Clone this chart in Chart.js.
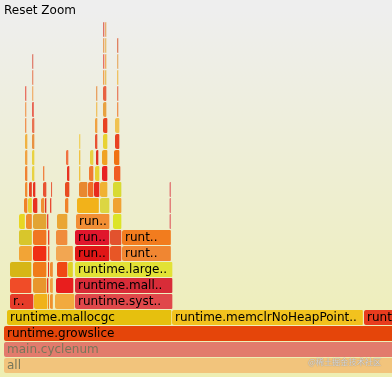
<!DOCTYPE html>
<html>
<head>
<meta charset="utf-8">
<script src="https://cdn.jsdelivr.net/npm/chart.js@4.4.0/dist/chart.umd.min.js"></script>
<style>
  body { margin: 0; }
  #wrap {
    position: relative; width: 392px; height: 377px; overflow: hidden;
    background: linear-gradient(180deg, #eeeeee 11px, #eeeeb0 386px);
  }
  #flame { position: absolute; left: 0; top: 0; }
  #reset {
    position: absolute; left: 4px; top: 3px;
    font: 12px/14px "DejaVu Sans", Verdana, sans-serif; color: #000;
  }
  #mark {
    position: absolute; left: 308px; top: 356px;
    font: 8.2px/11px "Noto Sans CJK SC", sans-serif;
    color: rgba(236,236,236,0.85); text-shadow: 0 0 1px rgba(90,90,90,0.9);
  }
</style>
</head>
<body>
<div id="wrap">
  <canvas id="flame" width="392" height="377"></canvas>
  <div id="reset">Reset Zoom</div>
  <div id="mark">@稀土掘金技术社区</div>
</div>
<script>
// x in samples, counted from the left edge of the zoomed frame (runtime.growslice)
const viewStart = -4;
const viewEnd = 388;
const zoomLevel = 2; // frames under this level are the faded parents

// one row per stack depth: [start, end, function]
const levelFrames = [
  [[0, 700, 'all']],
  [[0, 700, 'main.cyclenum']],
  [[0, 700, 'runtime.growslice']],
  [[3, 168, 'runtime.mallocgc'], [168, 359.5, 'runtime.memclrNoHeapPointers'], [360, 700, 'runtime.memmove']],
  [[6, 30, 'runtime.profilealloc'], [30, 44, 'runtime.nextFreeFast'], [44, 45.5, 'runtime.releasem'], [46, 49.5, 'runtime.acquirem'], [51, 71, 'runtime.heapBitsSetType'], [71, 169, 'runtime.systemstack']],
  [[6, 28, 'runtime.mProf_Malloc'], [29, 43, 'runtime.(*mcache).nextFree'], [43, 45, 'runtime.getMCache'], [46, 49.5, 'runtime.heapBitsForAddr'], [52, 70, 'runtime.heapBits.initSpan'], [71, 169, 'runtime.mallocgc.func1']],
  [[6, 28, 'runtime.callers'], [29, 43, 'runtime.(*mcache).refill'], [44, 45.5, 'runtime.add'], [46, 49.5, 'runtime.(*mspan).base'], [53, 64, 'runtime.memclrNoHeapPointers'], [64, 69.5, 'runtime.(*gcBits).bitp'], [71, 169, 'runtime.largeAlloc']],
  [[15, 28.5, 'runtime.systemstack'], [29, 43, 'runtime.(*mcentral).cacheSpan'], [44, 46, 'runtime.nextFreeFast'], [52, 69.5, 'runtime.heapBitsSetType'], [71, 106, 'runtime.(*mheap).alloc'], [106, 118, 'runtime.deductSweepCredit'], [118, 167.5, 'runtime.memclrNoHeapPointers']],
  [[15, 28.5, 'runtime.callers.func1'], [29, 43, 'runtime.(*mcentral).grow'], [44, 46, 'runtime.(*mspan).nextFreeIndex'], [52, 64, 'runtime.heapBitsForAddr'], [71, 106, 'runtime.(*mheap).alloc.func1'], [106, 118, 'runtime.sweepone'], [118, 167.5, 'runtime.(*mheap).allocSpan']],
  [[15, 21.5, 'runtime.gentraceback'], [22, 28.5, 'runtime.callers'], [29, 43, 'runtime.(*mheap).alloc'], [43, 45, 'runtime.lock'], [53, 64, 'runtime.(*mspan).refillAllocCache'], [72, 106, 'runtime.(*mheap).allocSpanLocked'], [109, 118, 'runtime.(*mspan).sweep'], [165.5, 167.5, 'runtime.(*mheap).allocNeedsZero']],
  [[20, 24, 'runtime.funcspdelta'], [24, 28.5, 'runtime.callers.func1'], [29, 34, 'runtime.(*mheap).alloc_m'], [37, 41, 'runtime.(*mheap).reclaim'], [41, 43, 'runtime.(*mspan).init'], [46, 48, 'runtime.unlock'], [61, 65, 'runtime.(*gcBits).bytep'], [73, 95.5, 'runtime.(*mheap).grow'], [96, 106, 'runtime.(*mheap).setSpans'], [109, 118, 'runtime.(*mspan).sweep.func1'], [165.5, 167.5, 'runtime.memclrNoHeapPointers']],
  [[21, 24, 'runtime.pcvalue'], [25, 28.5, 'runtime.findfunc'], [29, 32, 'runtime.(*mheap).allocSpanLocked'], [39, 43, 'runtime.(*mheap).reclaimChunk'], [47, 48.5, 'runtime.lock2'], [61, 66, 'runtime.addb'], [75, 84, 'runtime.sysAlloc'], [84, 90, 'runtime.(*mheap).sysAlloc'], [90, 96, 'runtime.(*mheap).growAddSpan'], [96, 104, 'runtime.(*pageAlloc).grow'], [109, 118, 'runtime.(*sweepLocked).sweep'], [165.5, 167.5, 'runtime.memclrNoHeapPointers']],
  [[21, 24, 'runtime.step'], [28, 31, 'runtime.(*mheap).freeSpanLocked'], [39, 41, 'runtime.(*mspan).sweep'], [63, 66, 'runtime.add'], [75, 77, 'runtime.sysMap'], [85, 90, 'runtime.sysReserve'], [91, 96, 'runtime.(*mheap).freeSpanLocked'], [98, 104, 'runtime.(*pageAlloc).update'], [110, 117, 'runtime.(*mspan).refillAllocCache']],
  [[21, 24, 'runtime.readvarint'], [28, 31, 'runtime.(*mheap).coalesce'], [62, 65, 'runtime.(*gcBits).bitp'], [75, 77, 'runtime.mmap'], [86, 90, 'runtime.mmap'], [92, 95, 'runtime.(*mheap).coalesce'], [98, 104, 'runtime.(*pageAlloc).scavenge'], [110, 116, 'runtime.(*mspan).countAlloc']],
  [[21, 24, 'runtime.readvarint'], [28, 31, 'runtime.(*mheap).allocSpan'], [75, 77, 'runtime.mmap.func1'], [91, 94, 'runtime.(*mheap).grow'], [99, 104, 'runtime.(*pageAlloc).scavengeOne'], [111, 116, 'runtime.popcnt']],
  [[21, 23, 'runtime.funcdata'], [28, 31, 'runtime.(*pageAlloc).alloc'], [91, 94, 'runtime.sysUnused'], [99, 104, 'runtime.(*pageAlloc).scavengeRangeLocked'], [111, 116, 'runtime.sysAlloc']],
  [[21, 23, 'runtime.pcdatavalue'], [28, 30.5, 'runtime.(*pageAlloc).find'], [92, 94, 'runtime.madvise'], [99, 103, 'runtime.sysUnused'], [113, 115, 'runtime.sysMap']],
  [[21, 23, 'runtime.pcvalue'], [28, 30, 'runtime.(*pageAlloc).allocRange'], [92, 94, 'runtime.madvise.func1'], [99, 103, 'runtime.madvise'], [113, 115, 'runtime.mmap']],
  [[28, 30, 'runtime.(*pallocBits).allocRange'], [99, 101, 'runtime.madvise.func1'], [101, 103, 'runtime.asmcgocall'], [113, 115, 'runtime.mmap.func1']],
  [[28, 30, 'runtime.(*pageBits).setRange'], [99, 101, 'runtime.asmcgocall'], [101, 103, 'runtime.sysUnused'], [113, 115, 'runtime.asmcgocall']],
  [[99, 101, 'runtime.libcCall'], [101, 103, 'runtime.madvise'], [113, 115, 'runtime.libcCall']],
  [[99, 101, 'runtime.madvise_trampoline'], [101, 103, 'runtime.madvise_trampoline']]
];

const levelColors = [
  ['#f2c47c'],
  ['#e27b6c'],
  ['#e5450a'],
  ['#e6c00e', '#f2c21e', '#e83c1e'],
  ['#e63c2a', '#f0b21a', '#f08222', '#f0922e', '#f2aa3e', '#e0484a'],
  ['#f04c28', '#e8962c', '#e83222', '#f0a242', '#e81e1e', '#d82c38'],
  ['#d6b616', '#f07c1a', '#e8321a', '#f08e32', '#f04814', '#e0d226', '#e2e236'],
  ['#f2a436', '#f02e14', '#f06232', '#f2a652', '#e01616', '#e85626', '#f08632'],
  ['#d8c62c', '#f07622', '#e8422a', '#f08c3c', '#e0162c', '#e2522e', '#f27c1e'],
  ['#e8d622', '#f08c2c', '#e2a434', '#e84232', '#eaa634', '#f28e34', '#dce426', '#e06a6a'],
  ['#f08228', '#e8d232', '#e83222', '#f08e32', '#e03222', '#e84a32', '#f0822a', '#f2b21a', '#dcd642', '#f0a232', '#e06a6a'],
  ['#f08a32', '#e84222', '#e83222', '#e85232', '#e86242', '#e84c22', '#e88830', '#f06c26', '#e82a1e', '#f0b232', '#d8da32', '#e06a6a'],
  ['#f08232', '#e8d242', '#f08242', '#e83222', '#f0c242', '#f07a32', '#e8d232', '#e82222', '#f05c22'],
  ['#f0a242', '#e8d242', '#f07242', '#f0c242', '#e8d242', '#e03222', '#f0a222', '#f07212'],
  ['#f0b242', '#e89242', '#f0d262', '#e85232', '#e8d232', '#e84222'],
  ['#f09252', '#e87252', '#f0a242', '#e84222', '#f0c252'],
  ['#f0a262', '#e86252', '#f0c262', '#e8a242', '#f09252'],
  ['#e87262', '#f0b272', '#e8a262', '#e86242', '#e88262'],
  ['#e89272', '#f0a252', '#e8c262', '#f0c262'],
  ['#e08272', '#e87262', '#f0b060', '#e8b272'],
  ['#e8a262', '#e8c070', '#e08262'],
  ['#e07262', '#e8b070']
];

const frames = [];
levelFrames.forEach((row, level) => {
  row.forEach((f, i) => {
    frames.push({ level: level, start: f[0], end: f[1], name: f[2], color: levelColors[level][i] });
  });
});

// flamegraph.pl style label fitting: "name.." cut to the box width
function fitLabel(ctx, name, w) {
  if (w < 2 * 12 * 0.59) return '';
  if (ctx.measureText(name).width < w) return name;
  for (let n = name.length - 2; n > 0; n--) {
    if (ctx.measureText(name.slice(0, n + 2)).width <= w) return name.slice(0, n) + '..';
  }
  return '';
}

const flameLabels = {
  id: 'flameLabels',
  afterDatasetsDraw(chart) {
    const ctx = chart.ctx;
    const meta = chart.getDatasetMeta(0);
    ctx.save();
    ctx.font = '12px "DejaVu Sans", Verdana, sans-serif';
    ctx.textBaseline = 'alphabetic';
    meta.data.forEach((bar, i) => {
      const p = bar.getProps(['x', 'y', 'base'], true);
      const left = Math.min(p.x, p.base);
      const txt = fitLabel(ctx, frames[i].name, Math.abs(p.x - p.base) - 3);
      if (!txt) return;
      ctx.fillStyle = frames[i].level < zoomLevel ? '#77775a' : '#000';
      ctx.fillText(txt, left + 3, p.y + 3.5);
    });
    ctx.restore();
  }
};

new Chart(document.getElementById('flame'), {
  type: 'bar',
  data: {
    datasets: [{
      data: frames.map(f => ({ x: [f.start, f.end], y: f.level })),
      backgroundColor: frames.map(f => f.color),
      borderColor: 'rgba(0,0,0,0)',
      borderWidth: { top: 0, right: 1, bottom: 0, left: 0 },
      borderSkipped: false,
      borderRadius: 2,
      barThickness: 15,
      grouped: false
    }]
  },
  options: {
    indexAxis: 'y',
    responsive: false,
    animation: false,
    layout: { padding: 0 },
    scales: {
      x: { type: 'linear', min: viewStart, max: viewEnd, display: false },
      y: { type: 'linear', min: -0.71875, max: 22.84375, offset: false, display: false }
    },
    plugins: {
      legend: { display: false },
      tooltip: { enabled: false }
    }
  },
  plugins: [flameLabels]
});
</script>
</body>
</html>
